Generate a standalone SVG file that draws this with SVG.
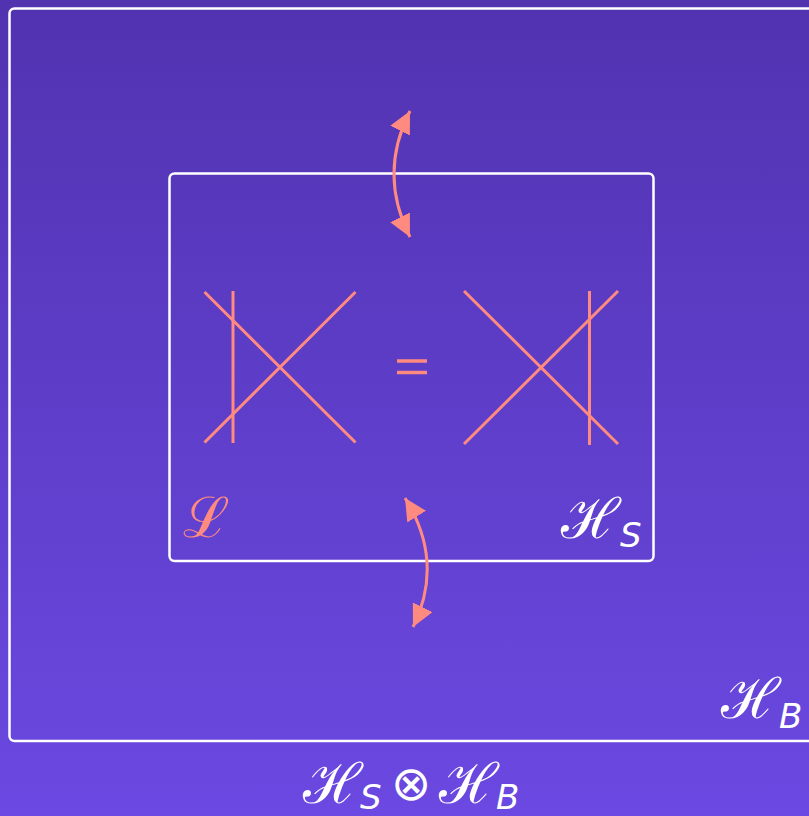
<svg xmlns="http://www.w3.org/2000/svg" width="809" height="816" viewBox="0 0 809 816">
<defs>
<linearGradient id="bg" x1="0" y1="0" x2="0" y2="1">
<stop offset="0" stop-color="#5133B0"/>
<stop offset="1" stop-color="#6B49E2"/>
</linearGradient>
<marker id="ah" viewBox="0 0 10 10" refX="10" refY="5" markerWidth="22" markerHeight="22" markerUnits="userSpaceOnUse" orient="auto-start-reverse">
<path d="M0,0 L10,5 L0,10 z" fill="#FF8A80"/>
</marker>
<style>
.box{fill:none;stroke:#ffffff;stroke-width:2.5}
.ln{stroke:#FF8A80;stroke-width:3;fill:none}
.eq{stroke:#FF8A80;stroke-width:3.5;fill:none}
.arr{stroke:#FF8A80;stroke-width:3;fill:none}
.t{font-family:"DejaVu Serif","Liberation Serif",serif;fill:#ffffff;font-size:56px}
.s{font-family:"DejaVu Sans","Liberation Sans",sans-serif;font-style:italic;font-size:34px}
.o{font-family:"DejaVu Sans","Liberation Sans",sans-serif;font-size:48px}
.p{font-family:"DejaVu Serif","Liberation Serif",serif;fill:#FF8A80}
</style>
</defs>
<rect x="0" y="0" width="809" height="816" fill="url(#bg)"/>
<g id="outer">
<rect class="box" x="9.5" y="8.5" width="812" height="732.5" rx="5"/>
<text class="t" x="721" y="718">ℋ<tspan class="s" x="779" y="728">B</tspan></text>
</g>
<g id="inner">
<rect class="box" x="169.5" y="173.5" width="484" height="387.5" rx="5"/>
<text class="t" x="561" y="538">ℋ<tspan class="s" x="620" y="547">S</tspan></text>
<text class="p" x="183" y="537" font-size="56">ℒ</text>
</g>
<g id="left-figure">
<line class="ln" x1="204.5" y1="292" x2="355.5" y2="442.5"/>
<line class="ln" x1="204.5" y1="442.5" x2="355.5" y2="292"/>
<line class="ln" x1="233" y1="291" x2="233" y2="443"/>
</g>
<g id="equals">
<line class="eq" x1="397" y1="361" x2="427" y2="361"/>
<line class="eq" x1="397" y1="372.5" x2="427" y2="372.5"/>
</g>
<g id="right-figure">
<line class="ln" x1="464" y1="291" x2="618" y2="444"/>
<line class="ln" x1="464" y1="444" x2="618" y2="291"/>
<line class="ln" x1="589.5" y1="291" x2="589.5" y2="445"/>
</g>
<g id="connectors">
<path class="arr" d="M410,111 Q378,174 410,237" marker-start="url(#ah)" marker-end="url(#ah)"/>
<path class="arr" d="M405,498 Q445,562 413,627" marker-start="url(#ah)" marker-end="url(#ah)"/>
</g>
<g id="caption">
<text class="t" x="303" y="803">ℋ<tspan class="s" x="360" y="809">S</tspan><tspan class="o" x="391" y="800">⊗</tspan><tspan x="439" y="803">ℋ</tspan><tspan class="s" x="496" y="809">B</tspan></text>
</g>
</svg>
